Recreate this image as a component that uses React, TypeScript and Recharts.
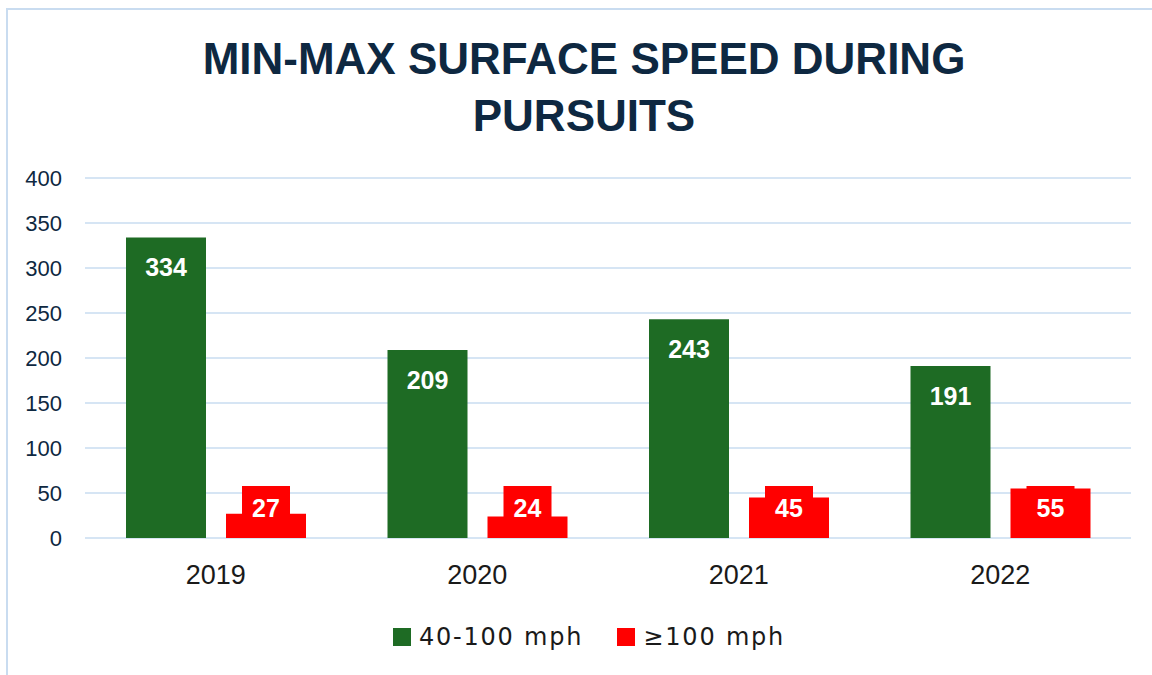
import React from "react";
import { BarChart, Bar, XAxis, YAxis, CartesianGrid, LabelList } from "recharts";

const years = ["2019", "2020", "2021", "2022"];
const midSpeed = [334, 209, 243, 191];
const highSpeed = [27, 24, 45, 55];
const yTicks = [0, 50, 100, 150, 200, 250, 300, 350, 400];

const GREEN = "#1E6B24";
const RED = "#FF0000";
const NAVY = "#0E2841";
const GRID = "#C9DCF0";

const data = years.map((y, i) => ({ year: y, mid: midSpeed[i], high: highSpeed[i] }));

// white number near the top of the green bar
function TopLabel(props: any) {
    const { x = 0, y = 0, width = 0, value } = props;
    return (
        <text x={x + width / 2} y={y + 39} textAnchor="middle" fill="#fff"
            fontSize={25} fontWeight={700} fontFamily="Liberation Sans, Arial, sans-serif">
            {value}
        </text>
    );
}

// red bar label sits at the base with its own red box
function BaseLabel(props: any) {
    const { x = 0, y = 0, width = 0, height = 0, value } = props;
    const bottom = y + height;
    const cx = x + width / 2;
    return (
        <g>
            <rect x={cx - 24} y={bottom - 52} width={48} height={44} fill={RED} />
            <text x={cx} y={bottom - 21} textAnchor="middle" fill="#fff"
                fontSize={25} fontWeight={700} fontFamily="Liberation Sans, Arial, sans-serif">
                {value}
            </text>
        </g>
    );
}

export default function App() {
    return (
        <div style={{ position: "fixed", left: 0, top: 0, width: 1152, height: 675, background: "#fff", overflow: "hidden" }}>
            <div style={{ position: "absolute", left: 6, top: 8, width: 1200, height: 700, borderLeft: `2px solid ${GRID}`, borderTop: `2px solid ${GRID}` }} />
            <div style={{
                position: "absolute", left: 0, top: 30, width: 1168, textAlign: "center",
                fontFamily: "Liberation Sans, Arial, sans-serif", fontWeight: 700, fontSize: 44,
                lineHeight: "57px", color: NAVY,
            }}>
                MIN-MAX SURFACE SPEED DURING<br />PURSUITS
            </div>
            <div style={{ position: "absolute", left: 0, top: 0 }}>
                <BarChart width={1152} height={675} data={data}
                    margin={{ top: 178, right: 21, left: 0, bottom: 97 }}
                    barSize={80} barGap={20}>
                    <CartesianGrid vertical={false} stroke={GRID} strokeWidth={1.5} />
                    <XAxis dataKey="year" axisLine={false} tickLine={false} tickSize={0} tickMargin={27} height={40}
                        tick={{ fill: "#1a1a1a", fontSize: 27, fontFamily: "Liberation Sans, Arial, sans-serif" }} />
                    <YAxis domain={[0, 400]} ticks={yTicks} width={85} axisLine={false} tickLine={false}
                        tickSize={0} tickMargin={23}
                        tick={{ fill: NAVY, fontSize: 22, fontFamily: "Liberation Sans, Arial, sans-serif" }} />
                    <Bar dataKey="mid" name="40-100 mph" fill={GREEN} isAnimationActive={false}>
                        <LabelList dataKey="mid" content={<TopLabel />} />
                    </Bar>
                    <Bar dataKey="high" name="≥100 mph" fill={RED} isAnimationActive={false}>
                        <LabelList dataKey="high" content={<BaseLabel />} />
                    </Bar>
                </BarChart>
            </div>
            {/* legend */}
            <div style={{
                position: "absolute", left: 13, top: 623, width: 1152, display: "flex", justifyContent: "center",
                fontFamily: "DejaVu Sans, sans-serif", fontSize: 24, letterSpacing: 1.8, color: "#1a1a1a",
            }}>
                {[{ label: "40-100 mph", color: GREEN }, { label: "≥100 mph", color: RED }].map((l, i) => (
                    <div key={l.label} style={{ display: "flex", alignItems: "center", marginLeft: i ? 34 : 0 }}>
                        <div style={{ width: 18, height: 18, background: l.color, marginRight: 8 }} />
                        <span>{l.label}</span>
                    </div>
                ))}
            </div>
        </div>
    );
}
